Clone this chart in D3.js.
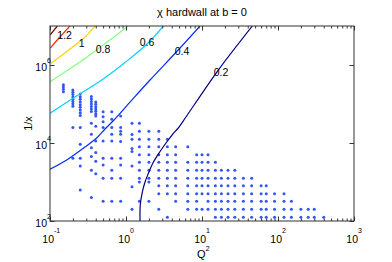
<!DOCTYPE html>
<html><head><meta charset="utf-8">
<script src="https://cdn.jsdelivr.net/npm/d3@7"></script>
<style>
body{margin:0;background:#fff}
svg{display:block}
text{font-family:"Liberation Sans",Arial,Helvetica,sans-serif;fill:#000}
</style>
</head><body>
<svg id="c" width="392" height="262"></svg>
<script>
// ---------- data ----------
const title = "χ hardwall at b = 0";
const xTicks = [0.1, 1, 10, 100, 1000];
const xTickExp = ["-1", "0", "1", "2", "3"];
const yTicks = [1e2, 1e4, 1e6];
const yTickExp = ["2", "4", "6"];

const levels = [0.2, 0.4, 0.6, 0.8, 1.0, 1.2, 1.4];
const levelText = ["0.2", "0.4", "0.6", "0.8", "1", "1.2", ""];

// contour lines: [Q2, 1/x]
const chi02 = [[1.53,100],[1.54,259],[1.63,522],[1.78,1000],[1.98,1700],[2.26,3070],[2.72,5540],[3.36,1e4],[4.03,1.6e4],[4.98,2.57e4],[6.15,4.64e4],[15.7,6.6e5],[46,1e7]];
const chi04 = [[0.1,2120],[0.166,3660],[0.274,7310],[0.411,13400],[0.53,22900],[0.675,36600],[1.13,1.12e5],[2.07,4.12e5],[5.14,2.73e6],[9.41,1e7]];
const chi06 = [[0.1,5.78e4],[0.213,1.51e5],[0.479,4.12e5],[0.971,1.16e6],[1.89,3.45e6],[3.1,1e7]];
const chi08 = [[0.1,3.73e5],[0.157,6.62e5],[0.248,1.19e6],[0.391,2.29e6],[0.615,4.37e6],[1.07,1e7]];
const chi10 = [[0.1,1.06e6],[0.144,1.8e6],[0.207,3.07e6],[0.289,5.22e6],[0.391,1e7]];
const chi12 = [[0.1,2.68e6],[0.135,5.22e6],[0.183,1e7]];
const chi14 = [[0.1,5.87e6],[0.125,1e7]];
// label anchor points [Q2, 1/x]
const labelPos = [[17.8,6.8e5],[5.46,2.29e6],[1.89,3.89e6],[0.498,2.57e6],[0.261,3.6e6],[0.155,6.05e6],null];

// measured data points: [Q2, list of 1/x]
const pointCols = [
 [0.15, [3.1e5,2.73e5,2.38e5,2.07e5]],
 [0.2,  [2.29e5,2.0e5,1.74e5,1.52e5,1.33e5,1.16e5,1.01e5,8.8e4,2.5e4,4060]],
 [0.25, [1.8e5,1.54e5,1.32e5,1.13e5,9.6e4,8.2e4,7.0e4,6.0e4,5.1e4,2.5e4,9300,4060,2570,624]],
 [0.35, [1.56e5,1.34e5,1.16e5,1.0e5,8.6e4,7.45e4,6.4e4,3.2e4,1.67e4,7570,4500,2000,400]],
 [0.4,  [1.12e5,9.8e4,8.5e4,7.45e4,6.5e4,5.6e4,4.9e4,2.7e4,1.12e4,5700,3400,1630]],
 [0.5,  [6.35e4,4.7e4,3.5e4,2.5e4,1.12e4,4060,2730,1250,320]],
 [0.65, [6.35e4,4.06e4,2.5e4,1.67e4,1.12e4,4060,2000,1250,320]],
 [0.85, [4.9e4,2.5e4,2.0e4,1.67e4,1.1e4,4060,2730,1250,320]],
 [1.2,  [32000,16500,12500,7230,6050,2570,760,200]],
 [1.5,  [32000,20000,12500,8000,5000,3200,2000,1250,1000,320]],
 [2,    [20000,12500,8000,5000,3200,2000,1250,1000,320]],
 [2.7,  [20000,12500,8000,5000,3200,2000,1250,800,500,200]],
 [3.5,  [12500,8000,5000,3200,2000,1250,800,500,125]],
 [4.5,  [8000,5000,3200,2000,1250,800,500,320]],
 [6.5,  [8000,3200,2000,1250,800,500,320,200]],
 [8.5,  [5000,3200,2000,1250,800,500,320,200]],
 [10,   [5000,3200,2000,1250,800,500,200]],
 [12,   [5000,3200,2000,1250,800,500,320,200]],
 [15,   [3200,2000,1250,800,500,320,200,125]],
 [18,   [2000,1250,800,500,320,200,125]],
 [22,   [2000,1250,800,500,320,200,125]],
 [27,   [2000,1250,800,500,320,200,125]],
 [35,   [1250,800,500,320,200,125]],
 [45,   [1250,800,500,320,200,125]],
 [60,   [800,500,320,200,125]],
 [70,   [800,500,320,200,125]],
 [90,   [500,320,200,125]],
 [120,  [500,320,200,125]],
 [150,  [320,200,125]],
 [200,  [200,125]],
 [250,  [200,125]],
 [300,  [200,125]],
 [400,  [125]]
];

// ---------- drawing ----------
const L = 50, R = 354, T = 26, B = 221;
const svg = d3.select("#c");
const x = d3.scaleLog().domain([0.1, 1000]).range([L, R]);
const y = d3.scaleLog().domain([1e2, 1e7]).range([B, T]);

const jet = t => {
  const c = v => Math.max(0, Math.min(1, v));
  const r = c(1.5 - Math.abs(4*t - 3)), g = c(1.5 - Math.abs(4*t - 2)), b = c(1.5 - Math.abs(4*t - 1));
  return d3.rgb(r*255, g*255, b*255).formatHex();
};
const lmin = d3.min(levels), lmax = d3.max(levels);
const color = v => jet((v - lmin) / (lmax - lmin));

svg.append("defs").append("clipPath").attr("id", "clip")
  .append("rect").attr("x", L).attr("y", T).attr("width", R - L).attr("height", B - T);

const plot = svg.append("g").attr("clip-path", "url(#clip)");

// points
const pts = pointCols.flatMap(([q, arr]) => arr.map(v => [q, v]));
plot.selectAll("circle.pt").data(pts).enter().append("circle")
  .attr("class", "pt")
  .attr("cx", d => x(d[0])).attr("cy", d => y(d[1])).attr("r", 1.5)
  .attr("fill", "#3355f5");

// contours
const curves = [chi02, chi04, chi06, chi08, chi10, chi12, chi14];
const line = d3.line().x(d => x(d[0])).y(d => y(d[1])).curve(d3.curveCatmullRom.alpha(0.5));
curves.forEach((cv, i) => {
  plot.append("path").attr("d", line(cv)).attr("fill", "none")
    .attr("stroke", color(levels[i])).attr("stroke-width", 1.2);
});

// contour labels
labelPos.forEach((p, i) => {
  if (!p) return;
  svg.append("text").attr("x", x(p[0])).attr("y", y(p[1]) + 4)
    .attr("text-anchor", "middle").attr("font-size", 10.5).text(levelText[i]);
});

// axes (ticks inward)
const minor = [];
for (let e = -1; e < 3; e++) for (let m = 2; m <= 9; m++) minor.push(m * Math.pow(10, e));
const axisCol = "#333";
function styleAxis(g) {
  g.select(".domain").remove();
  g.selectAll(".tick line").attr("stroke", axisCol);
}
svg.append("g").attr("transform", `translate(0,${B})`)
  .call(d3.axisBottom(x).tickValues(minor).tickSize(-2.5).tickFormat("")).call(styleAxis);
svg.append("g").attr("transform", `translate(0,${B})`)
  .call(d3.axisBottom(x).tickValues(xTicks).tickSize(-4.5).tickFormat("")).call(styleAxis);
svg.append("g").attr("transform", `translate(0,${T})`)
  .call(d3.axisTop(x).tickValues(minor).tickSize(-2.5).tickFormat("")).call(styleAxis);
svg.append("g").attr("transform", `translate(0,${T})`)
  .call(d3.axisTop(x).tickValues(xTicks).tickSize(-4.5).tickFormat("")).call(styleAxis);
svg.append("g").attr("transform", `translate(${L},0)`)
  .call(d3.axisLeft(y).tickValues(yTicks).tickSize(-4.5).tickFormat("")).call(styleAxis);
svg.append("g").attr("transform", `translate(${R},0)`)
  .call(d3.axisRight(y).tickValues(yTicks).tickSize(-4.5).tickFormat("")).call(styleAxis);

// frame
svg.append("rect").attr("x", L).attr("y", T).attr("width", R - L).attr("height", B - T)
  .attr("fill", "none").attr("stroke", axisCol).attr("stroke-width", 1);

// x tick labels
xTicks.forEach((v, i) => {
  const px = x(v);
  svg.append("text").attr("x", px + 4).attr("y", 242.5).attr("text-anchor", "end")
    .attr("font-size", 10.5).text("10");
  svg.append("text").attr("x", px + 4).attr("y", 232.5).attr("text-anchor", "start")
    .attr("font-size", 7).text(xTickExp[i]);
});
// y tick labels
yTicks.forEach((v, i) => {
  const py = y(v);
  svg.append("text").attr("x", 47).attr("y", py + 5.5).attr("text-anchor", "end")
    .attr("font-size", 10.5).text("10");
  svg.append("text").attr("x", 47).attr("y", py - 2).attr("text-anchor", "start")
    .attr("font-size", 7).text(yTickExp[i]);
});

// title & axis labels
svg.append("text").attr("x", (L + R) / 2).attr("y", 15.5).attr("text-anchor", "middle")
  .attr("font-size", 11).text(title);
const xl = svg.append("text").attr("x", 197).attr("y", 257.5).attr("font-size", 11);
xl.append("tspan").text("Q");
xl.append("tspan").attr("dy", -7).attr("font-size", 7.5).text("2");
svg.append("text").attr("transform", `translate(31.5,${(T + B) / 2}) rotate(-90)`)
  .attr("text-anchor", "middle").attr("font-size", 11).text("1/x");
</script>
</body></html>
